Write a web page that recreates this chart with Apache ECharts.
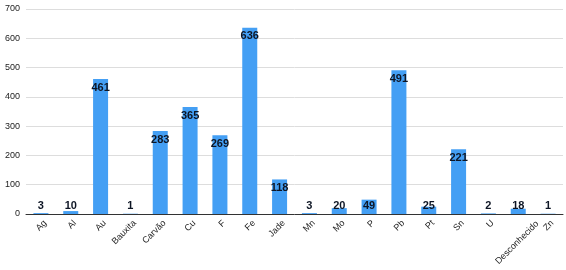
<!DOCTYPE html>
<html><head><meta charset="utf-8">
<script src="https://cdn.jsdelivr.net/npm/echarts@6/dist/echarts.min.js"></script>
<style>html,body{margin:0;padding:0;background:#fff}#c{width:566px;height:270px}</style>
</head><body><div id="c"></div>
<script>
const categories = ['Ag','Al','Au','Bauxita','Carvão','Cu','F','Fe','Jade','Mn','Mo','P','Pb','Pt','Sn','U','Desconhecido','Zn'];
const values = [3,10,461,1,283,365,269,636,118,3,20,49,491,25,221,2,18,1];
const yTicks = [0,100,200,300,400,500,600,700];
const FONT = 'Liberation Sans, Arial, sans-serif';

const chart = echarts.init(document.getElementById('c'));
chart.setOption({
  animation:false,
  grid:{left:26,right:3,top:9,bottom:56,containLabel:false},
  xAxis:{type:'category',
    data:categories.map(c=>c==='Desconhecido'?{value:c,textStyle:{padding:[0,-16,0,0]}}:c),
    axisLine:{lineStyle:{color:'#333',width:1}},
    axisTick:{show:false},
    axisLabel:{rotate:45,fontSize:9,fontFamily:FONT,color:'#222',interval:0,margin:12,padding:[0,-6,0,0],
      formatter:v=>v==='Desconhecido'?'{d|'+v+'}':v,
      rich:{d:{fontSize:9,fontFamily:FONT,color:'#222',lineHeight:31,verticalAlign:'bottom'}}}},
  yAxis:{type:'value',min:yTicks[0],max:yTicks[yTicks.length-1],interval:100,
    axisLine:{show:false},axisTick:{show:false},
    splitLine:{lineStyle:{color:'#ddd'}},
    axisLabel:{fontSize:9,fontFamily:FONT,color:'#222',margin:6}},
  series:[{type:'bar',barWidth:15,
    data:values.map(v=>({value:v,label:{position: v<50?'insideBottom':'insideTop',distance:3}})),
    itemStyle:{color:'#449ff4'},
    label:{show:true,fontSize:11,fontWeight:'bold',fontFamily:FONT,color:'#0d1524'}
  }]
});
</script></body></html>
